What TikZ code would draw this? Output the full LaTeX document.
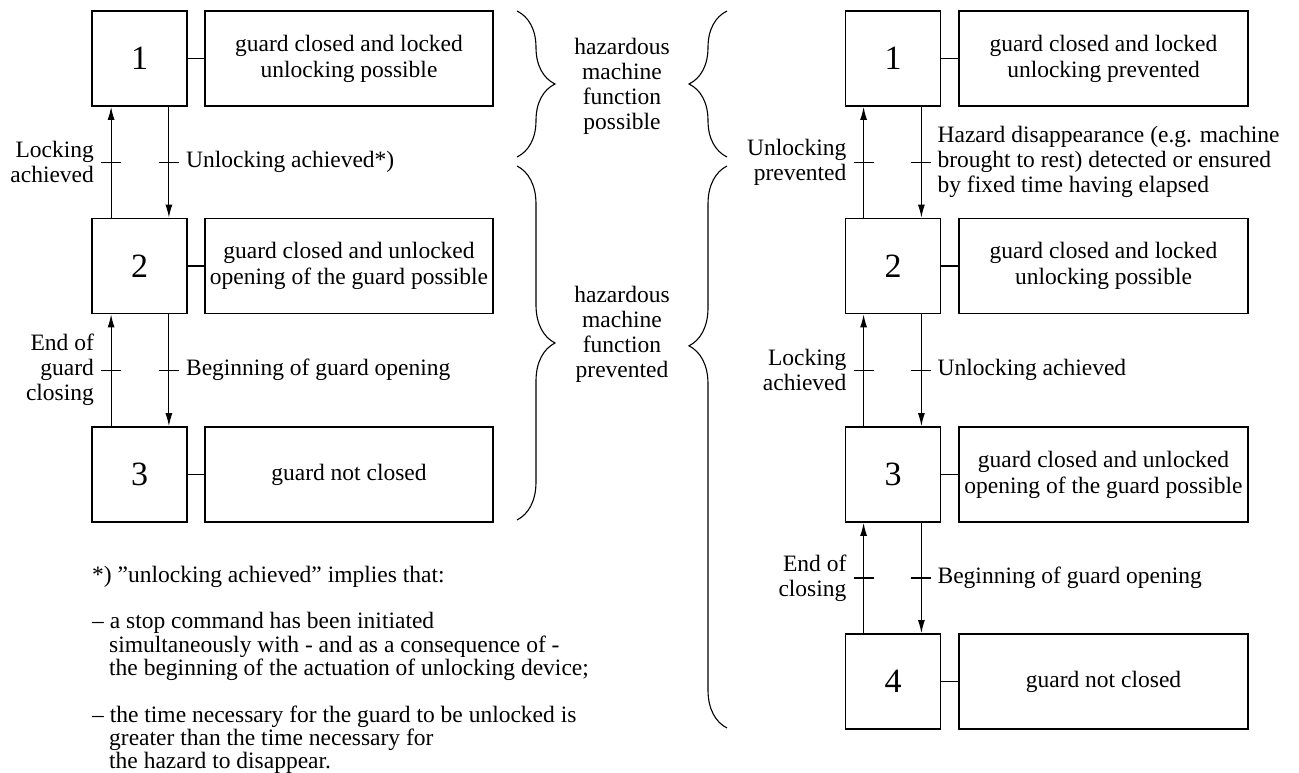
\documentclass[tikz,border=0pt]{standalone}
\usepackage{fontspec}
\setmainfont{Liberation Serif}
\usetikzlibrary{arrows.meta,decorations.pathreplacing}
\begin{document}
\begin{tikzpicture}[x=1pt,y=-1pt,
  numbox/.style={draw,line width=1.8pt,minimum width=95pt,minimum height=95pt,font=\fontsize{34}{38}\selectfont,inner sep=0pt},
  descbox/.style={draw,line width=1.8pt,minimum width=288pt,minimum height=95pt,align=center,font=\fontsize{23.5}{26}\selectfont,inner sep=0pt},
  lbl/.style={font=\fontsize{23.5}{25}\selectfont,inner sep=0pt},
  arr/.style={-{Latex[length=13pt,width=7pt]},line width=1.1pt},
  tickline/.style={line width=1.1pt},
  con/.style={line width=1.1pt},
  brc/.style={decorate,decoration={brace,amplitude=38pt},line width=1.1pt}]
\useasboundingbox (0,0) rectangle (1299,773);

% ---------- left diagram ----------
\node[numbox] (L1) at (139.5,58.5) {1};
\node[numbox] (L2) at (139.5,266) {2};
\node[numbox] (L3) at (139.5,474.5) {3};
\node[descbox] (LD1) at (349,58.5) {guard closed and locked\\unlocking possible};
\node[descbox] (LD2) at (349,266) {guard closed and unlocked\\opening of the guard possible};
\node[descbox] (LD3) at (349,474.5) {guard not closed};
\draw[con] (L1.east) -- (LD1.west);
\draw[con] (L2.east) -- (LD2.west);
\draw[con] (L3.east) -- (LD3.west);

\draw[arr] ([xshift=20pt]L2.north west) -- coordinate[pos=.5] (lu1) ([xshift=20pt]L1.south west);
\draw[arr] ([xshift=-19pt]L1.south east) -- coordinate[pos=.5] (ld1) ([xshift=-19pt]L2.north east);
\draw[arr] ([xshift=20pt]L3.north west) -- coordinate[pos=.5] (lu2) ([xshift=20pt]L2.south west);
\draw[arr] ([xshift=-19pt]L2.south east) -- coordinate[pos=.5] (ld2) ([xshift=-19pt]L3.north east);
\foreach \m in {lu1,ld1,lu2,ld2} \draw[tickline] ([xshift=-10pt]\m) -- ([xshift=10pt]\m);
\node[lbl,anchor=east,align=right] (tl1) at ([xshift=-17pt]lu1) {Locking\\achieved};
\node[lbl,anchor=west,align=left] (tl2) at ([xshift=17pt]ld1) {Unlocking achieved*)};
\node[lbl,anchor=east,align=right] (tl3) at ([xshift=-17pt]lu2) {End of\\guard\\closing};
\node[lbl,anchor=west,align=left] (tl4) at ([xshift=17pt]ld2) {Beginning of guard opening};

% ---------- braces ----------
\draw[brc] (517,11) -- (517,157);
\draw[brc] (517,166) -- (517,520);
\draw[brc] (727,157) -- (727,11);
\draw[brc,decoration={brace,amplitude=38pt,aspect=0.68}] (727,728) -- (727,166);
\node[lbl,align=center] (bt1) at (622,86) {hazardous\\machine\\function\\possible};
\node[lbl,align=center] (bt2) at (622,334) {hazardous\\machine\\function\\prevented};

% ---------- right diagram ----------
\node[numbox] (R1) at (893,58.5) {1};
\node[numbox] (R2) at (893,266) {2};
\node[numbox] (R3) at (893,474.5) {3};
\node[numbox] (R4) at (893,681.5) {4};
\node[descbox,minimum width=289pt] (RD1) at (1103.5,58.5) {guard closed and locked\\unlocking prevented};
\node[descbox,minimum width=289pt] (RD2) at (1103.5,266) {guard closed and locked\\unlocking possible};
\node[descbox,minimum width=289pt] (RD3) at (1103.5,474.5) {guard closed and unlocked\\opening of the guard possible};
\node[descbox,minimum width=289pt] (RD4) at (1103.5,681.5) {guard not closed};
\draw[con] (R1.east) -- (RD1.west);
\draw[con] (R2.east) -- (RD2.west);
\draw[con] (R3.east) -- (RD3.west);
\draw[con] (R4.east) -- (RD4.west);

\draw[arr] ([xshift=19pt]R2.north west) -- coordinate[pos=.5] (ru1) ([xshift=19pt]R1.south west);
\draw[arr] ([xshift=-20pt]R1.south east) -- coordinate[pos=.5] (rd1) ([xshift=-20pt]R2.north east);
\draw[arr] ([xshift=19pt]R3.north west) -- coordinate[pos=.5] (ru2) ([xshift=19pt]R2.south west);
\draw[arr] ([xshift=-20pt]R2.south east) -- coordinate[pos=.5] (rd2) ([xshift=-20pt]R3.north east);
\draw[arr] ([xshift=19pt]R4.north west) -- coordinate[pos=.5] (ru3) ([xshift=19pt]R3.south west);
\draw[arr] ([xshift=-20pt]R3.south east) -- coordinate[pos=.5] (rd3) ([xshift=-20pt]R4.north east);
\foreach \m in {ru1,rd1,ru2,rd2,ru3,rd3} \draw[tickline] ([xshift=-10pt]\m) -- ([xshift=10pt]\m);
\node[lbl,anchor=east,align=right] (tr1) at ([xshift=-17pt]ru1) {Unlocking\\prevented};
\node[lbl,anchor=west,align=left] (tr2) at ([xshift=16pt]rd1) {Hazard disappearance (e.g. machine\\brought to rest) detected or ensured\\by fixed time having elapsed};
\node[lbl,anchor=east,align=right] (tr3) at ([xshift=-17pt]ru2) {Locking\\achieved};
\node[lbl,anchor=west,align=left] (tr4) at ([xshift=16pt]rd2) {Unlocking achieved};
\node[lbl,anchor=east,align=right] (tr5) at ([xshift=-17pt]ru3) {End of\\closing};
\node[lbl,anchor=west,align=left] (tr6) at ([xshift=16pt]rd3) {Beginning of guard opening};

% ---------- footnote ----------
\node[lbl,anchor=base west] (fn0) at (92,582) {*) ”unlocking achieved” implies that:};
\node[lbl,anchor=base west] (fn1) at (92,628) {– a stop command has been initiated};
\node[lbl,anchor=base west] (fn2) at (109,652) {simultaneously with - and as a consequence of -};
\node[lbl,anchor=base west] (fn3) at (109,675) {the beginning of the actuation of unlocking device;};
\node[lbl,anchor=base west] (fn4) at (92,722) {– the time necessary for the guard to be unlocked is};
\node[lbl,anchor=base west] (fn5) at (109,745) {greater than the time necessary for};
\node[lbl,anchor=base west] (fn6) at (109,768) {the hazard to disappear.};
\end{tikzpicture}
\end{document}
